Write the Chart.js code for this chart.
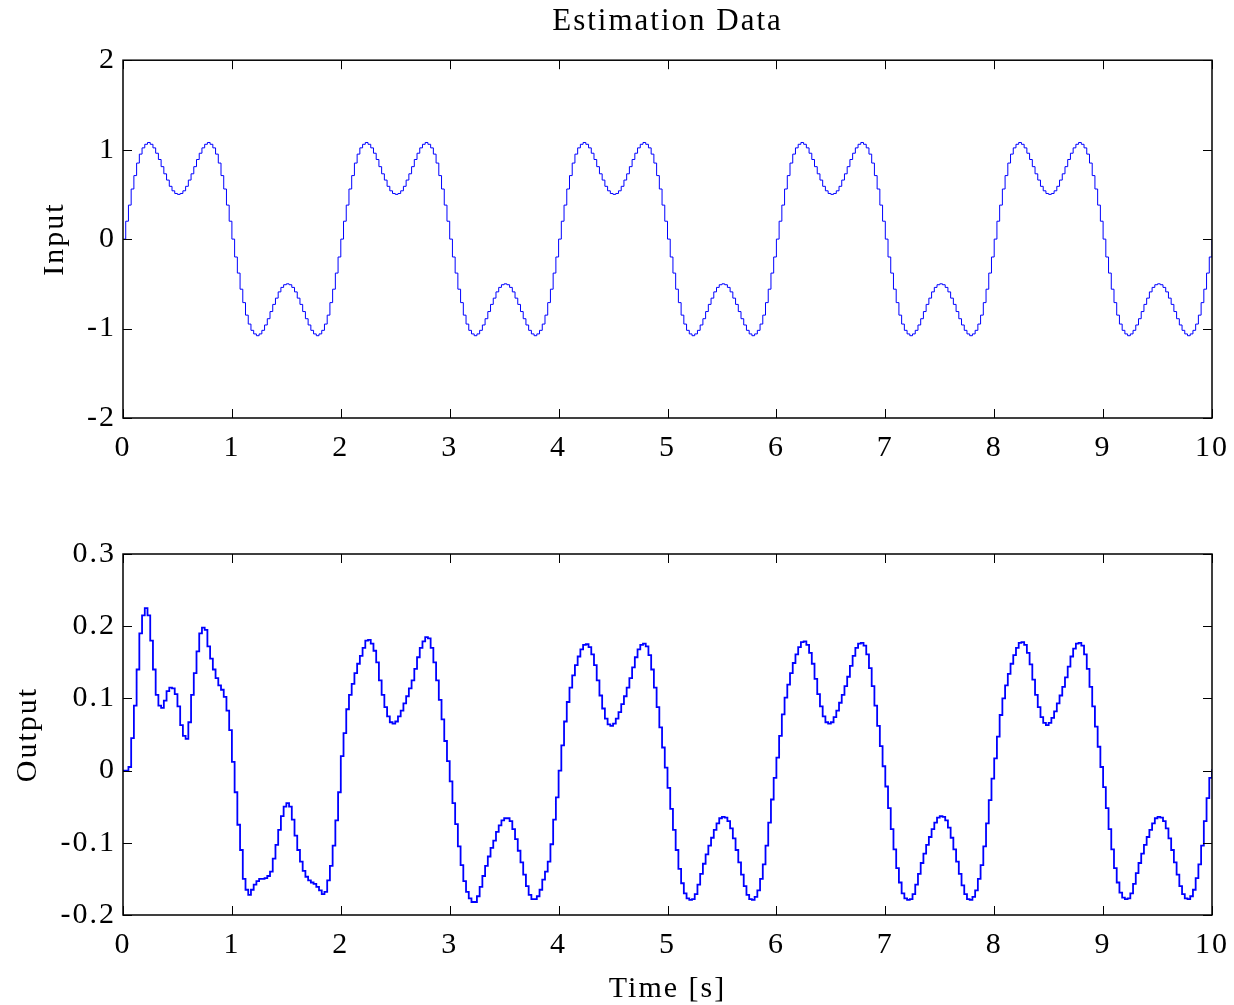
<!DOCTYPE html>
<html>
<head>
<meta charset="utf-8">
<title>Estimation Data</title>
<script src="https://cdn.jsdelivr.net/npm/chart.js@4.4.1/dist/chart.umd.min.js"></script>
<style>
  html, body { margin: 0; padding: 0; background: #fff; }
  #wrap { position: relative; width: 1234px; height: 1005px; }
  .panel { position: absolute; left: 0; width: 1234px; }
  #top { top: 0; height: 480px; }
  #bot { top: 480px; height: 525px; }
</style>
</head>
<body>
<div id="wrap">
  <div class="panel" id="top"><canvas id="inputChart"></canvas></div>
  <div class="panel" id="bot"><canvas id="outputChart"></canvas></div>
</div>
<script>
// sample period of the logged signals [s]
const SAMPLE_PERIOD = 0.025;

// input signal (5 periods of 2 s, then the last sample)
const inputValues = [
  0, 0.20, 0.38, 0.56, 0.71, 0.85, 0.95, 1.02, 1.06, 1.08, 1.06, 1.02, 0.96, 0.89, 0.81, 0.73, 0.66, 0.59, 0.54, 0.51,
  0.50, 0.51, 0.54, 0.59, 0.66, 0.73, 0.81, 0.89, 0.96, 1.02, 1.06, 1.08, 1.06, 1.02, 0.95, 0.85, 0.71, 0.56, 0.38, 0.20,
  0, -0.20, -0.38, -0.56, -0.71, -0.85, -0.95, -1.02, -1.06, -1.08, -1.06, -1.02, -0.96, -0.89, -0.81, -0.73, -0.66, -0.59, -0.54, -0.51,
  -0.50, -0.51, -0.54, -0.59, -0.66, -0.73, -0.81, -0.89, -0.96, -1.02, -1.06, -1.08, -1.06, -1.02, -0.95, -0.85, -0.71, -0.56, -0.38, -0.20,
  0, 0.20, 0.38, 0.56, 0.71, 0.85, 0.95, 1.02, 1.06, 1.08, 1.06, 1.02, 0.96, 0.89, 0.81, 0.73, 0.66, 0.59, 0.54, 0.51,
  0.50, 0.51, 0.54, 0.59, 0.66, 0.73, 0.81, 0.89, 0.96, 1.02, 1.06, 1.08, 1.06, 1.02, 0.95, 0.85, 0.71, 0.56, 0.38, 0.20,
  0, -0.20, -0.38, -0.56, -0.71, -0.85, -0.95, -1.02, -1.06, -1.08, -1.06, -1.02, -0.96, -0.89, -0.81, -0.73, -0.66, -0.59, -0.54, -0.51,
  -0.50, -0.51, -0.54, -0.59, -0.66, -0.73, -0.81, -0.89, -0.96, -1.02, -1.06, -1.08, -1.06, -1.02, -0.95, -0.85, -0.71, -0.56, -0.38, -0.20,
  0, 0.20, 0.38, 0.56, 0.71, 0.85, 0.95, 1.02, 1.06, 1.08, 1.06, 1.02, 0.96, 0.89, 0.81, 0.73, 0.66, 0.59, 0.54, 0.51,
  0.50, 0.51, 0.54, 0.59, 0.66, 0.73, 0.81, 0.89, 0.96, 1.02, 1.06, 1.08, 1.06, 1.02, 0.95, 0.85, 0.71, 0.56, 0.38, 0.20,
  0, -0.20, -0.38, -0.56, -0.71, -0.85, -0.95, -1.02, -1.06, -1.08, -1.06, -1.02, -0.96, -0.89, -0.81, -0.73, -0.66, -0.59, -0.54, -0.51,
  -0.50, -0.51, -0.54, -0.59, -0.66, -0.73, -0.81, -0.89, -0.96, -1.02, -1.06, -1.08, -1.06, -1.02, -0.95, -0.85, -0.71, -0.56, -0.38, -0.20,
  0, 0.20, 0.38, 0.56, 0.71, 0.85, 0.95, 1.02, 1.06, 1.08, 1.06, 1.02, 0.96, 0.89, 0.81, 0.73, 0.66, 0.59, 0.54, 0.51,
  0.50, 0.51, 0.54, 0.59, 0.66, 0.73, 0.81, 0.89, 0.96, 1.02, 1.06, 1.08, 1.06, 1.02, 0.95, 0.85, 0.71, 0.56, 0.38, 0.20,
  0, -0.20, -0.38, -0.56, -0.71, -0.85, -0.95, -1.02, -1.06, -1.08, -1.06, -1.02, -0.96, -0.89, -0.81, -0.73, -0.66, -0.59, -0.54, -0.51,
  -0.50, -0.51, -0.54, -0.59, -0.66, -0.73, -0.81, -0.89, -0.96, -1.02, -1.06, -1.08, -1.06, -1.02, -0.95, -0.85, -0.71, -0.56, -0.38, -0.20,
  0, 0.20, 0.38, 0.56, 0.71, 0.85, 0.95, 1.02, 1.06, 1.08, 1.06, 1.02, 0.96, 0.89, 0.81, 0.73, 0.66, 0.59, 0.54, 0.51,
  0.50, 0.51, 0.54, 0.59, 0.66, 0.73, 0.81, 0.89, 0.96, 1.02, 1.06, 1.08, 1.06, 1.02, 0.95, 0.85, 0.71, 0.56, 0.38, 0.20,
  0, -0.20, -0.38, -0.56, -0.71, -0.85, -0.95, -1.02, -1.06, -1.08, -1.06, -1.02, -0.96, -0.89, -0.81, -0.73, -0.66, -0.59, -0.54, -0.51,
  -0.50, -0.51, -0.54, -0.59, -0.66, -0.73, -0.81, -0.89, -0.96, -1.02, -1.06, -1.08, -1.06, -1.02, -0.95, -0.85, -0.71, -0.56, -0.38, -0.20,
  0,
];

const outputValues = [
  // 0 - 2 s
  0, 0, 0.005, 0.045, 0.09, 0.14, 0.19, 0.215, 0.225, 0.215,
  0.18, 0.14, 0.105, 0.09, 0.087, 0.097, 0.11, 0.115, 0.114, 0.106,
  0.089, 0.063, 0.048, 0.044, 0.067, 0.105, 0.135, 0.165, 0.19, 0.198,
  0.195, 0.172, 0.155, 0.14, 0.128, 0.118, 0.112, 0.102, 0.083, 0.056,
  0.012, -0.03, -0.075, -0.11, -0.15, -0.165, -0.172, -0.165, -0.158, -0.153,
  -0.15, -0.15, -0.149, -0.146, -0.14, -0.122, -0.103, -0.082, -0.063, -0.05,
  -0.045, -0.05, -0.068, -0.09, -0.11, -0.126, -0.139, -0.147, -0.152, -0.155,
  -0.157, -0.161, -0.166, -0.171, -0.168, -0.152, -0.132, -0.104, -0.069, -0.03,
  // 2 - 4 s
  0.020, 0.052, 0.085, 0.105, 0.120, 0.135, 0.148, 0.159, 0.170, 0.180,
  0.181, 0.176, 0.166, 0.150, 0.125, 0.105, 0.088, 0.075, 0.067, 0.065,
  0.068, 0.075, 0.083, 0.093, 0.103, 0.114, 0.125, 0.141, 0.157, 0.170,
  0.179, 0.185, 0.183, 0.170, 0.150, 0.125, 0.098, 0.071, 0.041, 0.013,
  -0.015, -0.045, -0.074, -0.105, -0.131, -0.153, -0.168, -0.177, -0.182, -0.182,
  -0.174, -0.161, -0.146, -0.132, -0.119, -0.107, -0.097, -0.085, -0.076, -0.069,
  -0.066, -0.066, -0.070, -0.081, -0.095, -0.111, -0.127, -0.144, -0.160, -0.172,
  -0.178, -0.178, -0.174, -0.165, -0.151, -0.140, -0.126, -0.102, -0.068, -0.037,
  // 4 - 6 s
  0.000, 0.035, 0.068, 0.095, 0.115, 0.132, 0.146, 0.158, 0.168, 0.174,
  0.175, 0.171, 0.161, 0.146, 0.125, 0.104, 0.086, 0.072, 0.064, 0.062,
  0.065, 0.072, 0.081, 0.092, 0.103, 0.115, 0.128, 0.143, 0.157, 0.168,
  0.174, 0.176, 0.172, 0.160, 0.140, 0.115, 0.088, 0.060, 0.032, 0.004,
  -0.024, -0.053, -0.082, -0.110, -0.136, -0.156, -0.170, -0.177, -0.179, -0.178,
  -0.171, -0.158, -0.143, -0.129, -0.116, -0.104, -0.093, -0.082, -0.073, -0.066,
  -0.064, -0.065, -0.070, -0.080, -0.094, -0.110, -0.127, -0.144, -0.160, -0.172,
  -0.178, -0.179, -0.175, -0.166, -0.150, -0.130, -0.104, -0.072, -0.040, -0.010,
  // 6 - 8 s
  0.018, 0.048, 0.078, 0.101, 0.119, 0.135, 0.149, 0.161, 0.171, 0.178,
  0.179, 0.174, 0.163, 0.148, 0.127, 0.106, 0.089, 0.075, 0.067, 0.065,
  0.067, 0.074, 0.083, 0.094, 0.105, 0.117, 0.130, 0.145, 0.159, 0.170,
  0.176, 0.177, 0.173, 0.161, 0.142, 0.117, 0.090, 0.062, 0.034, 0.006,
  -0.022, -0.052, -0.081, -0.109, -0.135, -0.155, -0.170, -0.177, -0.179, -0.178,
  -0.171, -0.158, -0.143, -0.128, -0.115, -0.103, -0.092, -0.081, -0.072, -0.065,
  -0.063, -0.064, -0.069, -0.079, -0.093, -0.109, -0.126, -0.143, -0.159, -0.171,
  -0.178, -0.179, -0.175, -0.166, -0.150, -0.131, -0.105, -0.073, -0.041, -0.011,
  // 8 - 10 s
  0.017, 0.047, 0.077, 0.100, 0.118, 0.134, 0.148, 0.160, 0.170, 0.177,
  0.178, 0.174, 0.163, 0.147, 0.126, 0.105, 0.088, 0.074, 0.066, 0.063,
  0.066, 0.073, 0.082, 0.093, 0.104, 0.116, 0.129, 0.144, 0.158, 0.169,
  0.176, 0.177, 0.173, 0.161, 0.141, 0.116, 0.089, 0.061, 0.033, 0.005,
  -0.023, -0.052, -0.081, -0.109, -0.135, -0.155, -0.169, -0.176, -0.178, -0.177,
  -0.170, -0.157, -0.142, -0.128, -0.115, -0.103, -0.092, -0.082, -0.073, -0.066,
  -0.064, -0.065, -0.070, -0.080, -0.094, -0.110, -0.127, -0.144, -0.160, -0.171,
  -0.177, -0.178, -0.174, -0.165, -0.149, -0.130, -0.104, -0.070, -0.038, -0.010,
  0.002,
];

const timeTicks   = [0, 1, 2, 3, 4, 5, 6, 7, 8, 9, 10];
const inputTicks  = [-2, -1, 0, 1, 2];
const outputTicks = [-0.2, -0.1, 0, 0.1, 0.2, 0.3];

const FONT = "'Liberation Serif', 'Times New Roman', serif";
const BLUE = '#0000ff';
const TICK = 9;

const toPoints = vals => vals.map((v, i) => ({ x: i * SAMPLE_PERIOD, y: v }));

// MATLAB-ish box with inward ticks on every side
const matlabBox = {
  id: 'matlabBox',
  beforeDraw(chart) {
    // the exported figure has rather wide-set lettering
    chart.ctx.letterSpacing = '2px';
  },
  afterDraw(chart) {
    const { ctx, chartArea: a, scales: { x, y } } = chart;
    ctx.save();
    ctx.strokeStyle = '#000';
    ctx.lineWidth = 1;
    ctx.beginPath();
    x.ticks.forEach(t => {
      const px = Math.round(x.getPixelForValue(t.value)) + 0.5;
      ctx.moveTo(px, a.bottom); ctx.lineTo(px, a.bottom - TICK);
      ctx.moveTo(px, a.top);    ctx.lineTo(px, a.top + TICK);
    });
    y.ticks.forEach(t => {
      const py = Math.round(y.getPixelForValue(t.value)) + 0.5;
      ctx.moveTo(a.left, py);  ctx.lineTo(a.left + TICK, py);
      ctx.moveTo(a.right, py); ctx.lineTo(a.right - TICK, py);
    });
    ctx.stroke();
    ctx.lineWidth = 1.5;
    ctx.strokeRect(a.left, a.top, a.right - a.left, a.bottom - a.top);
    ctx.restore();
  },
};

function makeChart(id, o) {
  return new Chart(document.getElementById(id), {
    type: 'line',
    data: {
      datasets: [{
        data: toPoints(o.values),
        stepped: true,
        borderColor: BLUE, borderWidth: o.lineWidth,
        pointRadius: 0, fill: false, tension: 0,
      }],
    },
    options: {
      responsive: true, maintainAspectRatio: false,
      animation: false, events: [],
      layout: { padding: o.padding },
      plugins: {
        legend: { display: false },
        tooltip: { enabled: false },
        title: o.title ? {
          display: true, text: o.title, color: '#000', fullSize: false,
          font: { family: FONT, size: 31, weight: 'normal' },
          padding: { top: 3, bottom: 20 },
        } : { display: false },
      },
      scales: {
        x: {
          type: 'linear', min: 0, max: 10,
          afterBuildTicks: s => { s.ticks = timeTicks.map(v => ({ value: v })); },
          grid: { display: false, drawTicks: false },
          border: { display: false },
          ticks: { color: '#000', font: { family: FONT, size: 30 }, padding: 12, maxRotation: 0 },
          title: o.xTitle ? {
            display: true, text: o.xTitle, color: '#000',
            font: { family: FONT, size: 30 }, padding: { top: 0, bottom: -2 },
          } : { display: false },
          afterFit: s => { s.height = o.xHeight; s.paddingRight = 0; s.paddingLeft = 0; },
        },
        y: {
          type: 'linear', min: o.yTicks[0], max: o.yTicks[o.yTicks.length - 1],
          afterBuildTicks: s => { s.ticks = o.yTicks.map(v => ({ value: v })); },
          grid: { display: false, drawTicks: false },
          border: { display: false },
          ticks: { color: '#000', font: { family: FONT, size: 30 }, padding: 7 },
          title: {
            display: true, text: o.yTitle, color: '#000',
            font: { family: FONT, size: 30 }, padding: { top: o.yTitlePad, bottom: 0 },
          },
          afterFit: s => { s.width = 123; },
        },
      },
    },
    plugins: [matlabBox],
  });
}

makeChart('inputChart', {
  values: inputValues, lineWidth: 1,
  title: 'Estimation Data', yTitle: 'Input', yTitlePad: 37,
  yTicks: inputTicks, xHeight: 62,
  padding: { left: 0, right: 22, top: 0, bottom: 0 },
});

makeChart('outputChart', {
  values: outputValues, lineWidth: 1.8,
  yTitle: 'Output', yTitlePad: 10, xTitle: 'Time [s]',
  yTicks: outputTicks, xHeight: 90,
  padding: { left: 0, right: 22, top: 74, bottom: 0 },
});
</script>
</body>
</html>
